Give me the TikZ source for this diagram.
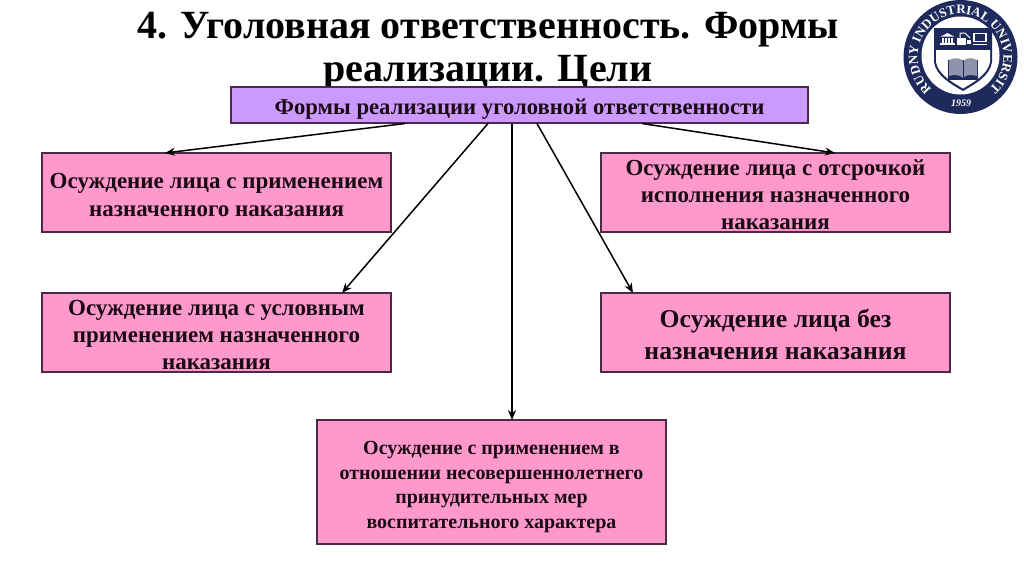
\documentclass[tikz,border=0pt]{standalone}
\usepackage{fontspec}
\setmainfont{Liberation Serif}
\usetikzlibrary{arrows.meta,calc,decorations.text}
\definecolor{pinkbox}{HTML}{FF99CC}
\definecolor{lilacbox}{HTML}{CC99FF}
\definecolor{edgeline}{HTML}{4A2A48}
\definecolor{inktext}{HTML}{1A0A14}
\definecolor{navy}{HTML}{1F2A5C}
\newcommand{\shifted}[2]{\smash{\raisebox{#1}{\begin{tabular}{@{}c@{}}#2\end{tabular}}}}
\tikzset{
  boxbase/.style={draw=edgeline,line width=1.1pt,inner sep=0pt,align=center,text=inktext,font=\bfseries},
  pinkb/.style={boxbase,fill=pinkbox,minimum width=349pt,minimum height=79pt},
  arrowline/.style={draw=black,line width=1.5pt,-{Stealth[length=10pt,width=8pt]}},
}
\begin{document}
\begin{tikzpicture}[x=1pt,y=-1pt]
\useasboundingbox (0,0) rectangle (1024,574);
% title
\node[font=\fontsize{40}{43}\selectfont\bfseries,text=black,align=center] (title) at (488,51) {4. Уголовная ответственность. Формы\\реализации. Цели};
% boxes
\node[boxbase,fill=lilacbox,minimum width=577pt,minimum height=36pt,font=\fontsize{22.7}{26}\selectfont\bfseries] (head) at (519.5,105) {\shifted{-9pt}{Формы реализации уголовной ответственности}};
\node[pinkb,font=\fontsize{23}{28}\selectfont\bfseries] (b1) at (216.5,192.5) {\shifted{-11pt}{Осуждение лица с применением\\назначенного наказания}};
\node[pinkb,font=\fontsize{23}{27}\selectfont\bfseries] (b2) at (775.5,192.5) {\shifted{-11pt}{Осуждение лица с отсрочкой\\исполнения назначенного\\наказания}};
\node[pinkb,font=\fontsize{23}{27}\selectfont\bfseries] (b3) at (216.5,332.5) {\shifted{-11pt}{Осуждение лица с условным\\применением назначенного\\наказания}};
\node[pinkb,font=\fontsize{25.7}{32}\selectfont\bfseries] (b4) at (775.5,332.5) {\shifted{-11pt}{Осуждение лица без\\назначения наказания}};
\node[boxbase,fill=pinkbox,minimum width=349pt,minimum height=124pt,font=\fontsize{20}{24.5}\selectfont\bfseries] (b5) at (491.5,482) {\shifted{-10pt}{Осуждение с применением в\\отношении несовершеннолетнего\\принудительных мер\\воспитательного характера}};
% connector ends
\coordinate (s1) at (405,123.5);
\coordinate (s2) at (488,123.5);
\coordinate (s3) at (512,123.5);
\coordinate (s4) at (537,123.5);
\coordinate (s5) at (642,123.5);
\coordinate (e1) at (165,153);
\coordinate (e2) at (835,153);
\coordinate (e3) at (342,293);
\coordinate (e4) at (633,293);
\coordinate (e5) at (512,420);
\draw[arrowline] (s1) -- (e1);
\draw[arrowline] (s5) -- (e2);
\draw[arrowline] (s2) -- (e3);
\draw[arrowline] (s4) -- (e4);
\draw[arrowline] (s3) -- (e5);
% logo
\coordinate (lc) at (960.5,57);
\fill[navy] (lc) circle (57);
\fill[white] (960.5,55.5) circle (39);
% shield
\fill[navy] (934,28) -- (992,28) -- (992,62) .. controls (990,76) and (975,84) .. (963,91) .. controls (951,84) and (936,76) .. (934,62) -- cycle;
\fill[white] (936,50) -- (990,50) -- (990,62) .. controls (988,74) and (974,82) .. (963,88.5) .. controls (952,82) and (938,74) .. (936,62) -- cycle;
% icons
\fill[white] (940,43) rectangle (955,45);
\fill[white] (941,36.5) -- (947.5,33) -- (954,36.5) -- cycle;
\foreach \xx in {942,945,948,951}{\fill[white] (\xx,37.5) rectangle (\xx+2,42.5);}
\fill[white] (957,38) rectangle (966,45);
\draw[white,line width=1pt] (960,38) -- (960,33) -- (965,33) -- (970,38);
\fill[white] (967,40) rectangle (971,44);
\draw[white,line width=1.2pt] (974,33.5) rectangle (986,41.5);
\draw[white,line width=1pt] (973,44) -- (987,44);
% book
\fill[navy] (948,60) rectangle (978,80);
\fill[navy!50!white] (949,60) .. controls (955,57) and (960,58) .. (963,61) .. controls (966,58) and (971,57) .. (977,60) -- (977,76) .. controls (971,74) and (966,75) .. (963,78) .. controls (960,75) and (955,74) .. (949,76) -- cycle;
\draw[navy,line width=.8pt] (963,61) -- (963,78);
% ring text
\path[decorate,decoration={text along path,text align={fit to path},
  text={|\fontsize{13}{14}\selectfont\bfseries\color{white}|RUDNY INDUSTRIAL UNIVERSITY}}]
  (lc) ++(132:43) arc[start angle=132,end angle=408,radius=43];
\node[font=\fontsize{10}{12}\selectfont\bfseries\itshape,text=white] (year) at (961,103) {1959};
\end{tikzpicture}
\end{document}
